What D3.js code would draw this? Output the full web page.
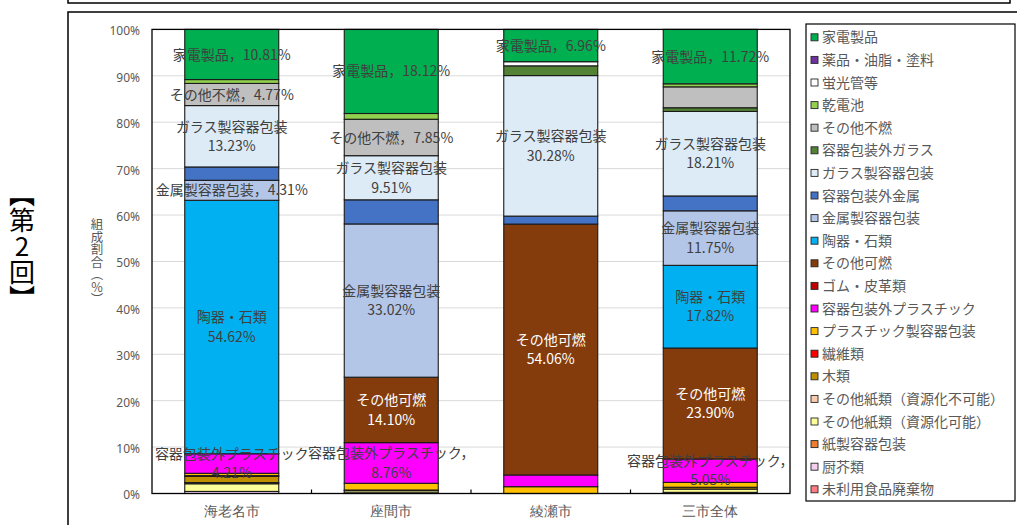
<!DOCTYPE html>
<html><head><meta charset="utf-8">
<script src="https://cdn.jsdelivr.net/npm/d3@7"></script>
<style>
body{margin:0;background:#fff;}
svg{display:block;font-family:"Noto Sans CJK JP","Noto Sans",sans-serif;}
</style></head>
<body><svg id="c" width="1017" height="525"></svg>
<script>
// ---- data ----
const categories = ["海老名市", "座間市", "綾瀬市", "三市全体"];
const seriesNames = [
  "家電製品", "薬品・油脂・塗料", "蛍光管等", "乾電池", "その他不燃", "容器包装外ガラス",
  "ガラス製容器包装", "容器包装外金属", "金属製容器包装", "陶器・石類", "その他可燃",
  "ゴム・皮革類", "容器包装外プラスチック", "プラスチック製容器包装", "繊維類", "木類",
  "その他紙類（資源化不可能）", "その他紙類（資源化可能）", "紙製容器包装", "厨芥類", "未利用食品廃棄物"
];
const seriesColors = [
  "#00B050", "#7030A0", "#FFFFFF", "#92D050", "#BFBFBF", "#548235",
  "#DDEBF7", "#4472C4", "#B4C6E7", "#00B0F0", "#843C0C",
  "#C00000", "#FF00FF", "#FFC000", "#FF0000", "#BF8F00",
  "#F8CBAD", "#FFFF99", "#ED7D31", "#F2CEEF", "#FF7C80"
];
// values per series (same order as seriesNames), per category
const kaden      = [10.81, 18.12, 6.96, 11.72];
const yakuhin    = [0, 0, 0, 0];
const keikoukan  = [0, 0, 0.89, 0];
const kandenchi  = [0.83, 1.24, 0, 0.66];
const sonotaFunen= [4.77, 7.85, 0, 4.50];
const gaiGlass   = [0, 0, 2.10, 0.80];
const glassYoki  = [13.23, 9.51, 30.28, 18.21];
const gaiKinzoku = [2.87, 5.20, 1.72, 3.20];
const kinzokuYoki= [4.31, 33.02, 0, 11.75];
const touki      = [54.62, 0, 0, 17.82];
const sonotaKanen= [0, 14.10, 54.06, 23.90];
const gomu       = [0, 0, 0, 0];
const gaiPla     = [4.21, 8.76, 2.52, 5.05];
const plaYoki    = [0.50, 1.45, 1.47, 1.04];
const sen_i      = [0.15, 0, 0, 0];
const mokurui    = [1.35, 0.15, 0, 0.40];
const kamiFuka   = [0.25, 0, 0, 0];
const kamiKa     = [1.65, 0.45, 0, 0.70];
const kamiYoki   = [0, 0, 0, 0];
const chuukai    = [0.45, 0.15, 0, 0.25];
const miriyou    = [0, 0, 0, 0];
const seriesValues = [kaden, yakuhin, keikoukan, kandenchi, sonotaFunen, gaiGlass, glassYoki,
  gaiKinzoku, kinzokuYoki, touki, sonotaKanen, gomu, gaiPla, plaYoki, sen_i, mokurui,
  kamiFuka, kamiKa, kamiYoki, chuukai, miriyou];
const yTicks = [0, 10, 20, 30, 40, 50, 60, 70, 80, 90, 100];
// data labels: category index, series index, mode
const labelCat    = [0,0,0,0,0,0, 1,1,1,1,1,1, 2,2,2, 3,3,3,3,3,3];
const labelSeries = [0,4,6,8,9,12, 0,4,6,8,10,12, 0,6,10, 0,6,8,9,10,12];
const labelMode   = ["inline","inline","stack","inline","stack","stack",
                     "inline","inline","stack","stack","stack","stackComma",
                     "inline","stack","stack",
                     "inline","stack","stack","stack","stack","stackComma"];

// ---- drawing ----
const svg = d3.select("#c");
const plot = {l: 152, r: 790, t: 29.4, b: 493.5};

// outer frames
svg.append("path").attr("d", `M68,0 V3 H1010 V0`).attr("fill","none").attr("stroke","#000").attr("stroke-width",1.5);
svg.append("rect").attr("x",68).attr("y",12).attr("width",1000).attr("height",600)
  .attr("fill","none").attr("stroke","#000").attr("stroke-width",1.5);

const x = d3.scaleBand().domain(categories).range([plot.l, plot.r]).paddingInner(0.4107).paddingOuter(0.20535);
const y = d3.scaleLinear().domain([0, 100]).range([plot.b, plot.t]);

// gridlines
svg.append("g").selectAll("line").data(yTicks.slice(1, -1)).join("line")
  .attr("x1", plot.l).attr("x2", plot.r).attr("y1", d => y(d)).attr("y2", d => y(d))
  .attr("stroke", "#D9D9D9").attr("stroke-width", 1);

// y axis
const yAxis = svg.append("g").attr("transform", `translate(${plot.l},0)`)
  .call(d3.axisLeft(y).tickValues(yTicks).tickFormat(d => d + "%").tickSize(0).tickPadding(12));
yAxis.select(".domain").remove();
yAxis.selectAll("text").attr("font-size", 12).attr("fill", "#595959").attr("dy", "0.45em")
  .attr("font-family", "'Noto Sans','Noto Sans CJK JP',sans-serif");

// stacked data (bottom = last series)
const stackOrder = d3.range(seriesNames.length).reverse();
const segs = [];
categories.forEach((c, ci) => {
  let acc = 0;
  stackOrder.forEach(si => {
    const v = seriesValues[si][ci];
    if (v > 0) segs.push({ci, si, y0: acc, y1: acc + v, v});
    acc += v;
  });
});

svg.append("g").selectAll("rect").data(segs).join("rect")
  .attr("x", d => x(categories[d.ci]))
  .attr("width", x.bandwidth())
  .attr("y", d => y(d.y1))
  .attr("height", d => y(d.y0) - y(d.y1))
  .attr("fill", d => seriesColors[d.si])
  .attr("stroke", "#1a1a1a").attr("stroke-width", 1.1);

// plot border
svg.append("rect").attr("x", plot.l).attr("y", plot.t).attr("width", plot.r - plot.l).attr("height", plot.b - plot.t)
  .attr("fill", "none").attr("stroke", "#000").attr("stroke-width", 1.3);

// category axis
const xAxis = svg.append("g").attr("transform", `translate(0,${plot.b})`)
  .call(d3.axisBottom(x).tickSize(0).tickPadding(13));
xAxis.select(".domain").remove();
xAxis.selectAll("text").attr("font-size", 14).attr("fill", "#595959");
// inner boundary ticks
svg.append("g").selectAll("line").data(categories.slice(1)).join("line")
  .attr("x1", d => x(d) - x.step() * x.paddingInner() / 2)
  .attr("x2", d => x(d) - x.step() * x.paddingInner() / 2)
  .attr("y1", plot.b).attr("y2", plot.b - 4).attr("stroke", "#000").attr("stroke-width", 1.2);

// data labels
const lg = svg.append("g").attr("font-size", 14).attr("text-anchor", "middle");
labelCat.forEach((ci, i) => {
  const si = labelSeries[i];
  const seg = segs.find(s => s.ci === ci && s.si === si);
  const cx = x(categories[ci]) + x.bandwidth() / 2;
  const cy = (y(seg.y0) + y(seg.y1)) / 2;
  const val = seriesValues[si][ci].toFixed(2) + "%";
  const fill = si === 10 ? "#FFFFFF" : "#404040";
  const mode = labelMode[i];
  let lines;
  if (mode === "inline") lines = [seriesNames[si] + "，" + val];
  else if (mode === "stackComma") lines = [seriesNames[si] + "，", val];
  else lines = [seriesNames[si], val];
  const lh = 19.5;
  const t = lg.append("text").attr("fill", fill);
  lines.forEach((ln, k) => {
    t.append("tspan").attr("x", cx).attr("y", cy + (k - (lines.length - 1) / 2) * lh)
      .attr("dy", "0.36em").text(ln);
  });
});

// axis title (vertical)
svg.append("text").attr("x", 97).attr("y", 262).attr("font-size", 12.5).attr("fill", "#595959")
  .attr("text-anchor", "middle").style("writing-mode", "vertical-rl")
  .text("組成割合（％）");

// round label
svg.append("text").attr("x", 22).attr("y", 246).attr("font-size", 26).attr("fill", "#000")
  .attr("text-anchor", "middle").style("writing-mode", "vertical-rl").style("text-orientation", "upright")
  .text("【第2回】");

// legend
const leg = {x: 806, y: 24, w: 209, h: 477};
svg.append("rect").attr("x", leg.x).attr("y", leg.y).attr("width", leg.w).attr("height", leg.h)
  .attr("fill", "#fff").attr("stroke", "#000").attr("stroke-width", 1.2);
const li = svg.append("g").selectAll("g").data(seriesNames).join("g")
  .attr("transform", (d, i) => `translate(${leg.x}, ${37.3 + i * 22.6})`);
li.append("rect").attr("x", 5).attr("y", -3.5).attr("width", 7).attr("height", 7)
  .attr("fill", (d, i) => seriesColors[i]).attr("stroke", "#262626").attr("stroke-width", 0.9);
li.append("text").attr("x", 16).attr("y", 0).attr("dy", "0.36em")
  .attr("font-size", 14).attr("fill", "#595959").text(d => d);
</script>
</body></html>
